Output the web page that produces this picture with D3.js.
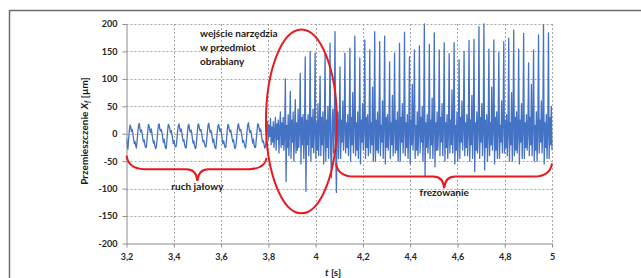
<!DOCTYPE html>
<html>
<head>
<meta charset="utf-8">
<script src="https://cdn.jsdelivr.net/npm/d3@7"></script>
<style>
  body { margin: 0; background: #fff; }
  svg { display: block; font-family: Lato, "Open Sans", sans-serif; }
</style>
</head>
<body>
<svg id="chart" width="641" height="278"></svg>
<script>
// sampling of the recorded displacement
const t0 = 3.2, dt = 0.003;

// idle run, 3.200 .. 3.797 s
const idle = [
  -8, -20, -28, -10, 6, 16, 12, 4, 8, 0, -10, -18, -14, -22,
  -26, -12, 4, 15, 19, 9, 3, 7, 1, -9, -15, -11, -21, -25,
  -24, -10, 5, 17, 14, 6, 2, 9, 0, -10, -17, -13, -22, -27,
  -25, -13, 3, 16, 18, 8, 5, 8, 2, -7, -16, -10, -19, -26,
  -27, -11, 6, 17, 15, 9, 2, 6, -1, -9, -18, -12, -21, -24,
  -23, -12, 4, 14, 18, 10, 4, 9, 3, -8, -14, -11, -20, -25,
  -26, -14, 2, 15, 17, 7, 3, 7, 1, -10, -17, -13, -22, -27,
  -25, -10, 5, 18, 16, 8, 5, 8, 0, -9, -15, -12, -19, -24,
  -24, -13, 3, 16, 19, 9, 2, 6, 2, -8, -16, -10, -21, -26,
  -27, -12, 4, 14, 17, 10, 4, 9, 1, -10, -18, -13, -20, -25,
  -25, -11, 6, 17, 15, 7, 3, 7, -1, -9, -15, -11, -22, -27,
  -24, -14, 2, 15, 18, 9, 5, 8, 2, -7, -16, -12, -19, -24,
  -26, -12, 5, 16, 20, 8, 2, 6, 0, -9, -17, -10, -21, -25,
  -25, -10, 4, 18, 17, 10, 4, 9, 1, -10, -15, -13, -20, -26,
  -24, -12, 8, 22
];

// tool entry and milling, 3.800 .. 5.000 s
const cutting = [
  -10, 15, -5,
  28, -20, 12, -15, 22, -25, 5,
  30, -30, 18, -10, 25, -35, 10,
  40, -25, 20, -20, 30, -30, 0,
  100, -87, 15, -25, 35, -40, 10,
  77, -45, 25, -15, 40, -50, 5,
  62, -35, 20, -30, 45, -25, 10,
  110, -55, 30, -20, 35, -45, 0,
  140, -105, 25, -20, 35, -40, 10,
  150, -50, 30, -25, 45, -35, 5,
  147, -45, 20, -30, 55, -40, 10,
  105, -40, 30, -20, 40, -55, 5,
  147, -50, 25, -25, 50, -45, 10,
  165, -35, -80, 20, 45, -35, 5,
  186, -30, -107, 15, 40, -45, 10,
  122, -45, 25, -15, 60, -30, 10,
  147, -35, 20, -25, 35, -40, 5,
  156, -50, 30, -20, 75, -35, 15,
  178, -40, 20, -30, 40, -45, 5,
  138, -55, 25, -15, 55, -30, 10,
  171, -45, 30, -25, 35, -40, 0,
  153, -35, 20, -20, 85, -50, 10,
  186, -50, 25, -30, 40, -35, 5,
  168, -40, 15, -15, 60, -45, 15,
  178, -55, 30, -25, 35, -30, 5,
  131, -45, 20, -20, 70, -40, 10,
  147, -35, 25, -30, 40, -50, 0,
  165, -50, 30, -15, 55, -35, 10,
  185, -40, 20, -25, 35, -45, 5,
  140, -55, 25, -20, 90, -30, 15,
  153, -45, 15, -30, 40, -40, 5,
  160, -35, 30, -15, 50, -50, 10,
  200, -78, 20, -25, 35, -35, 0,
  163, -45, 25, -20, 65, -45, 10,
  184, -60, 20, -30, 40, -30, 5,
  153, -40, 30, -15, 55, -40, 15,
  166, -50, 20, -25, 35, -45, 5,
  146, -35, 25, -20, 80, -35, 10,
  166, -55, 15, -30, 40, -50, 0,
  135, -45, 30, -15, 60, -30, 10,
  150, -40, 20, -25, 35, -40, 5,
  170, -50, 25, -20, 70, -45, 15,
  172, -69, 20, -30, 40, -35, 5,
  195, -45, 30, -15, 55, -40, 10,
  200, -66, 25, -25, 35, -50, 0,
  154, -40, 20, -20, 85, -30, 10,
  171, -55, 30, -30, 40, -45, 5,
  148, -45, 15, -15, 60, -35, 15,
  168, -35, 25, -25, 35, -40, 5,
  174, -50, 20, -20, 75, -50, 10,
  189, -40, 30, -30, 40, -35, 0,
  154, -55, 25, -15, 55, -45, 10,
  183, -45, 20, -25, 35, -30, 5,
  129, -40, 30, -20, 90, -40, 15,
  153, -50, 15, -30, 40, -50, 5,
  180, -35, 25, -15, 60, -35, 10,
  199, -55, 20, -25, 35, -45, 0,
  184, -45, 30, -20, 50, -30
];

const xTicks = [3.2, 3.4, 3.6, 3.8, 4.0, 4.2, 4.4, 4.6, 4.8, 5.0];
const yTicks = [-200, -150, -100, -50, 0, 50, 100, 150, 200];

// annotations (time [s], displacement [um])
const entryText = ["wejście narzędzia", "w przedmiot", "obrabiany"];
const entryEllipse = { t: 3.94, v: 22.5, dt: 0.15, dv: 167.5 };
const braces = [
  { t0: 3.2, v0: -40, t1: 3.793, v1: -44, tip: 3.5, vTip: -86, level: -64.5, label: "ruch jałowy", vLabel: -102 },
  { t0: 4.086, v0: -54, t1: 5.0, v1: -54, tip: 4.544, vTip: -99, level: -78, label: "frezowanie", vLabel: -114 }
];

const signal = idle.concat(cutting).map((v, i) => ({ t: t0 + i * dt, v: v }));

const svg = d3.select("#chart");
const plotLeft = 126.5, plotRight = 552, plotTop = 24, plotBottom = 243.5;

const x = d3.scaleLinear().domain([3.2, 5.0]).range([plotLeft, plotRight]);
const y = d3.scaleLinear().domain([-200, 200]).range([plotBottom, plotTop]);

// Polish number format: decimal comma, plain hyphen for negatives
const pl = d3.formatLocale({ decimal: ",", thousands: " ", grouping: [3], currency: ["", ""], minus: "-" });
const fmtX = pl.format("~g");
const fmtY = pl.format("d");

// outer frame (top and left edge of the figure box)
svg.append("path")
  .attr("d", "M9.5,278 L9.5,10.5 L641,10.5")
  .attr("fill", "none")
  .attr("stroke", "#6b6b6b")
  .attr("stroke-width", 1.5);

// gridlines
const grid = svg.append("g").attr("class", "grid");
grid.selectAll("line.h").data(yTicks.slice(1)).join("line")
  .attr("class", "h")
  .attr("x1", plotLeft).attr("x2", plotRight)
  .attr("y1", d => Math.round(y(d)) + 0.5).attr("y2", d => Math.round(y(d)) + 0.5);
grid.selectAll("line.v").data(xTicks.slice(1)).join("line")
  .attr("class", "v")
  .attr("y1", plotTop).attr("y2", plotBottom)
  .attr("x1", d => Math.round(x(d)) + 0.5).attr("x2", d => Math.round(x(d)) + 0.5);
grid.selectAll("line")
  .attr("stroke", "#a6a6a6")
  .attr("stroke-width", 1)
  .attr("stroke-dasharray", "2,2");

// axes
const xAxis = svg.append("g")
  .attr("transform", `translate(0,${plotBottom})`)
  .call(d3.axisBottom(x).tickValues(xTicks).tickSize(4).tickSizeOuter(0).tickFormat(fmtX));
const yAxis = svg.append("g")
  .attr("transform", `translate(${plotLeft},0)`)
  .call(d3.axisLeft(y).tickValues(yTicks).tickSize(4).tickSizeOuter(0).tickFormat(fmtY));

[xAxis, yAxis].forEach(a => {
  a.select(".domain").attr("stroke", "#8c8c8c");
  a.selectAll(".tick line").attr("stroke", "#8c8c8c");
  a.selectAll(".tick text")
    .attr("fill", "#262626")
    .attr("font-family", "Lato, 'Open Sans', sans-serif")
    .attr("font-size", 9)
    .attr("font-weight", "bold");
});
xAxis.selectAll(".tick text").attr("y", 10);
yAxis.selectAll(".tick text").attr("x", -9);

// signal
svg.append("clipPath").attr("id", "plotClip")
  .append("rect").attr("x", plotLeft).attr("y", plotTop - 1)
  .attr("width", plotRight - plotLeft + 1).attr("height", plotBottom - plotTop + 1);

svg.append("path")
  .datum(signal)
  .attr("clip-path", "url(#plotClip)")
  .attr("fill", "none")
  .attr("stroke", "#4472c4")
  .attr("stroke-width", 1.3)
  .attr("stroke-linejoin", "round")
  .attr("d", d3.line().x(d => x(d.t)).y(d => y(d.v)));

// red annotations
const red = "#e8191f";
svg.append("ellipse")
  .attr("cx", x(entryEllipse.t))
  .attr("cy", y(entryEllipse.v))
  .attr("rx", x(entryEllipse.t + entryEllipse.dt) - x(entryEllipse.t))
  .attr("ry", y(entryEllipse.v - entryEllipse.dv) - y(entryEllipse.v))
  .attr("fill", "none")
  .attr("stroke", red)
  .attr("stroke-width", 2);

function bracePath(b) {
  const x0 = x(b.t0), y0 = y(b.v0), x1 = x(b.t1), y1 = y(b.v1);
  const xm = x(b.tip), ym = y(b.vTip), yl = y(b.level);
  const p = d3.path();
  p.moveTo(x0, y0);
  p.quadraticCurveTo(x0 + 2, yl, x0 + 18, yl);
  p.lineTo(xm - 11, yl);
  p.quadraticCurveTo(xm - 1, yl, xm, ym);
  p.quadraticCurveTo(xm + 1, yl, xm + 11, yl);
  p.lineTo(x1 - 18, yl);
  p.quadraticCurveTo(x1 - 2, yl, x1, y1);
  return p.toString();
}

svg.selectAll("path.brace").data(braces).join("path")
  .attr("class", "brace")
  .attr("d", bracePath)
  .attr("fill", "none")
  .attr("stroke", red)
  .attr("stroke-width", 2);

const labelStyle = sel => sel
  .attr("fill", "#1a1a1a")
  .attr("font-size", 10)
  .attr("font-weight", "bold");

svg.selectAll("text.brace-label").data(braces).join("text")
  .attr("class", "brace-label")
  .attr("x", d => x(d.tip))
  .attr("y", d => y(d.vLabel))
  .attr("text-anchor", "middle")
  .call(labelStyle)
  .text(d => d.label);

svg.append("text")
  .attr("x", 200)
  .attr("y", 37)
  .call(labelStyle)
  .selectAll("tspan").data(entryText).join("tspan")
  .attr("x", 200)
  .attr("dy", (d, i) => i === 0 ? 0 : 14)
  .text(d => d);

// axis titles
const yTitle = svg.append("text")
  .attr("transform", "translate(88,131) rotate(-90)")
  .attr("text-anchor", "middle")
  .call(labelStyle);
yTitle.append("tspan").text("Przemieszczenie ");
yTitle.append("tspan").attr("font-style", "italic").text("X");
yTitle.append("tspan").attr("font-style", "italic").attr("font-size", 7).attr("dy", 2).text("f");
yTitle.append("tspan").attr("dy", -2).text(" [µm]");

const xTitle = svg.append("text")
  .attr("x", 333)
  .attr("y", 276)
  .attr("text-anchor", "middle")
  .call(labelStyle);
xTitle.append("tspan").attr("font-style", "italic").text("t");
xTitle.append("tspan").text(" [s]");
</script>
</body>
</html>
